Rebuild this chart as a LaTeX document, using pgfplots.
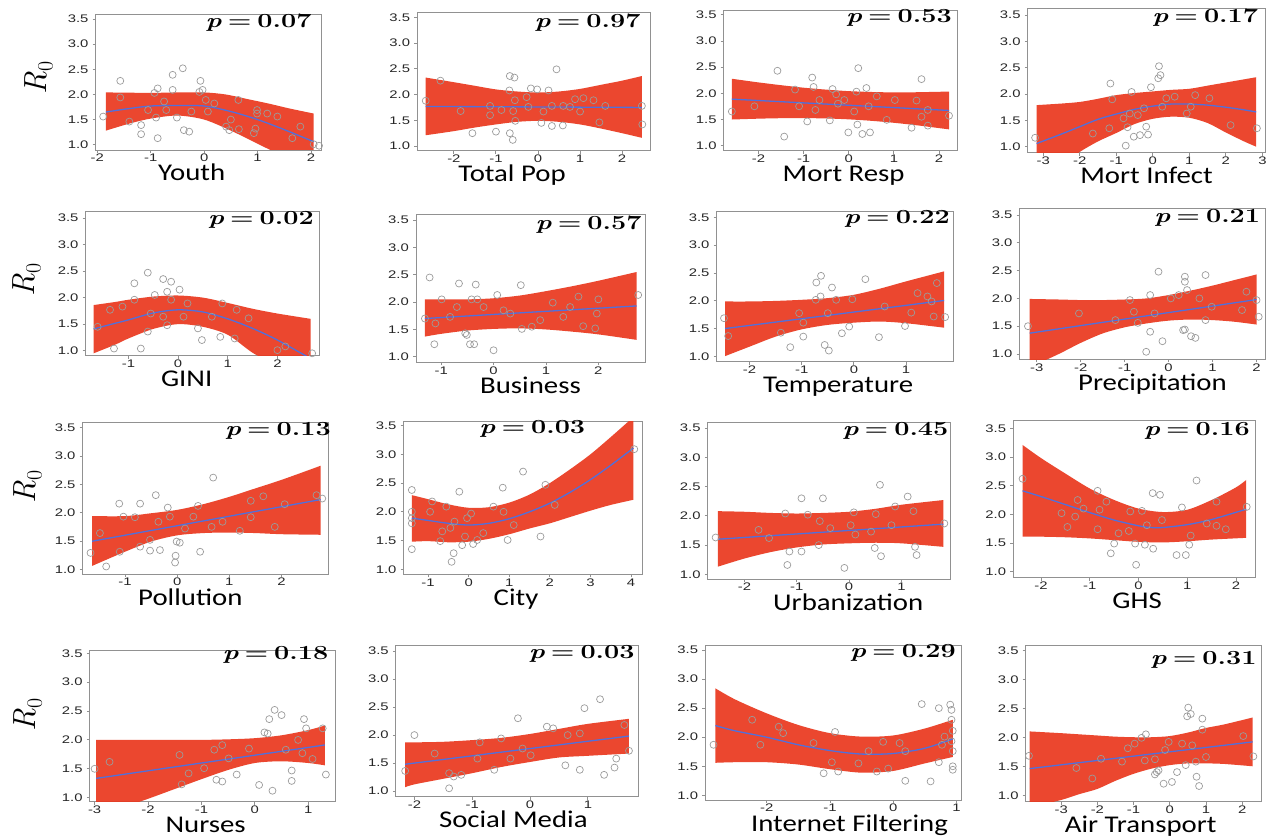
\documentclass[border=0pt]{standalone}
\usepackage{fontspec}
\usepackage{pgfplots}
\pgfplotsset{compat=1.18}
\usepgfplotslibrary{fillbetween}
\newfontfamily\ticksf[FakeStretch=1.35]{Liberation Sans}
\newfontfamily\titlef[FakeStretch=1.2]{Carlito}
\newfontfamily\pfont[FakeStretch=1.35]{Latin Modern Roman}
\newfontfamily\rfont{Latin Modern Roman}
\definecolor{bandred}{RGB}{233,57,31}
\definecolor{fitblue}{RGB}{80,112,220}
\definecolor{ptgray}{RGB}{155,155,155}
\definecolor{framegray}{RGB}{145,145,145}
\newcommand{\Rzero}{{\rfont\itshape R}\kern0.5pt\raisebox{-6pt}{\rfont\fontsize{22}{22}\selectfont 0}}
\pgfplotsset{
  panel/.style={scale only axis, anchor=south west,
    axis line style={framegray, line width=0.9pt},
    tick style={framegray, line width=0.9pt},
    major tick length=3pt, tick align=outside, tick pos=left,
    ytick={1,1.5,2,2.5,3,3.5}, xtick={-4,-3,...,5},
    tick label style={font=\ticksf\fontsize{11}{12}\selectfont, text=black!85},
    yticklabel style={inner sep=1pt, xshift=-3pt, /pgf/number format/.cd, fixed, fixed zerofill, precision=1, assume math mode=true},
    xticklabel style={inner sep=1pt, /pgf/number format/assume math mode=true},
    title style={at={(axis description cs:1,1)}, anchor=north east, inner sep=0pt, font=\pfont\fontsize{20}{20}\selectfont},
    xlabel style={at={(axis description cs:0.5,0)}, anchor=base, inner sep=0pt, yshift=-31pt, font=\titlef\fontsize{24}{24}\selectfont},
    ylabel style={anchor=center, inner sep=0pt, font=\rfont\fontsize{32}{32}\selectfont},
    clip=true},
  pv/.style n args={3}{title={{\bfseries\itshape p}\hspace{0.3em}\textbf{=}\hspace{0.3em}\textbf{#1}}, title style={xshift=#2pt, yshift=#3pt}},
  xl/.style 2 args={xlabel={#1}, xlabel style={xshift=#2pt}},
  rl/.style 2 args={ylabel={\Rzero}, ylabel style={at={(axis description cs:#1,#2)}}},
  pts/.style={only marks, mark=o, mark size=3.5pt, color=ptgray, mark options={line width=0.7pt}},
  edge/.style={draw=none, smooth, forget plot},
  bandfill/.style={fill=bandred, fill opacity=0.93, draw=none},
  fit/.style={draw=fitblue, line width=1.3pt, no marks, smooth},
}
\begin{document}
\begin{tikzpicture}

% 1 Youth
\begin{axis}[panel, at={(95.7pt,689pt)}, width=226pt, height=136pt, xmin=-2.03, xmax=2.2, ymin=0.895, ymax=3.6, pv={0.07}{-10}{-5.5}, xl={Youth}{-17}, rl={-0.251}{0.53}]
\addplot[pts] coordinates {(-1.89,1.56) (-1.57,2.27) (-1.57,1.94) (-1.40,1.46) (-1.18,1.39) (-1.18,1.21) (-0.93,2.03) (-0.87,2.12) (-0.87,1.13) (-0.90,1.54) (-0.59,2.39) (-0.40,2.52) (-0.59,2.09) (-0.51,1.54) (-0.38,1.29) (-0.28,1.26) (-0.07,2.27) (-0.03,2.09) (-0.09,2.05) (0.03,1.89) (0.07,1.66) (-0.24,1.66) (0.41,1.36) (0.47,1.29) (0.65,1.31) (0.50,1.50) (0.64,1.89) (0.99,1.69) (0.99,1.62) (0.96,1.32) (0.93,1.23) (1.37,1.56) (1.65,1.13) (2.05,1.01) (-0.75,1.86) (-0.71,1.69) (-1.05,1.69) (0.19,1.82) (1.18,1.62) (1.80,1.36) (2.15,0.98)};
\addplot[edge, name path=U] coordinates {(-1.84,2.04) (-1.4,2.035) (-1,2.03) (-0.5,2.04) (0,2.04) (0.4,2.0) (0.8,1.91) (1.2,1.82) (1.6,1.72) (2.05,1.62)};
\addplot[edge, name path=L] coordinates {(-1.84,1.28) (-1.4,1.42) (-1,1.52) (-0.5,1.58) (0,1.5) (0.5,1.28) (1,1.02) (1.5,0.75) (2.05,0.4)};
\addplot[bandfill] fill between[of=U and L];
\addplot[fit] coordinates {(-1.84,1.65) (-1.4,1.72) (-1,1.77) (-0.5,1.78) (0,1.77) (0.5,1.66) (1,1.5) (1.5,1.3) (2.05,1.06)};
\end{axis}

% 2 Total Pop
\begin{axis}[panel, at={(417.3pt,688.3pt)}, width=233.4pt, height=138pt, xmin=-2.87, xmax=2.68, ymin=0.91, ymax=3.59, pv={0.97}{-10}{-7}, xl={Total Pop}{-22}]
\addplot[pts] coordinates {(-2.67,1.88) (-2.32,2.27) (-1.84,1.68) (-1.56,1.25) (-1.14,1.60) (-1.0,1.28) (-1.14,1.78) (-0.67,2.36) (-0.56,2.33) (-0.68,2.08) (-0.67,1.25) (-0.60,1.12) (-0.54,1.49) (-0.59,1.68) (-0.55,1.89) (-0.27,1.95) (-0.17,2.12) (-0.02,2.10) (0.08,1.45) (0.13,1.67) (0.25,2.08) (0.33,1.39) (0.44,2.49) (0.59,1.40) (0.76,1.76) (0.88,1.91) (1.0,1.67) (1.08,1.93) (1.32,1.89) (1.46,1.46) (1.60,1.78) (2.47,1.78) (2.48,1.42) (0.33,1.78) (0.6,1.78) (-0.87,1.70) (-0.23,1.76)};
\addplot[edge, name path=U] coordinates {(-2.67,2.33) (-2,2.24) (-1.5,2.17) (-1,2.1) (-0.5,2.06) (0,2.04) (0.5,2.06) (1,2.11) (1.5,2.19) (2,2.27) (2.47,2.36)};
\addplot[edge, name path=L] coordinates {(-2.67,1.21) (-2,1.29) (-1.5,1.36) (-1,1.42) (-0.5,1.47) (0,1.49) (0.5,1.47) (1,1.42) (1.5,1.34) (2,1.25) (2.47,1.16)};
\addplot[bandfill] fill between[of=U and L];
\addplot[fit] coordinates {(-2.67,1.77) (2.47,1.75)};
\end{axis}

% 3 Mort Resp
\begin{axis}[panel, at={(723.7pt,688.3pt)}, width=233.9pt, height=140pt, xmin=-2.77, xmax=2.41, ymin=0.90, ymax=3.58, pv={0.53}{-5.6}{-4.3}, xl={Mort Resp}{3}]
\addplot[pts] coordinates {(-2.59,1.65) (-2.09,1.75) (-1.58,2.43) (-1.43,1.17) (-1.19,2.07) (-1.10,1.75) (-0.92,1.46) (-0.81,2.30) (-0.78,2.12) (-0.74,1.68) (-0.42,1.48) (-0.36,2.08) (-0.28,1.98) (-0.24,1.80) (-0.01,1.25) (0.12,1.65) (0.17,2.03) (0.21,2.48) (0.19,1.40) (0.30,1.22) (0.47,1.25) (0.39,2.10) (0.44,1.75) (1.02,1.87) (0.84,1.49) (1.39,1.34) (1.5,1.86) (1.61,2.27) (1.61,1.55) (1.75,1.38) (1.75,1.68) (2.22,1.57) (-0.65,1.87) (-0.1,1.87) (0.62,1.94)};
\addplot[edge, name path=U] coordinates {(-2.59,2.277) (-2,2.207) (-1.5,2.154) (-1,2.106) (-0.5,2.069) (0,2.04) (0.5,2.024) (1,2.016) (1.5,2.019) (2.22,2.032)};
\addplot[edge, name path=L] coordinates {(-2.59,1.497) (-2,1.513) (-1.5,1.522) (-1,1.524) (-0.5,1.517) (0,1.50) (0.5,1.472) (1,1.434) (1.5,1.387) (2.22,1.308)};
\addplot[bandfill] fill between[of=U and L];
\addplot[fit] coordinates {(-2.59,1.887) (2.22,1.67)};
\end{axis}

% 4 Mort Infect
\begin{axis}[panel, at={(1027.8pt,686.3pt)}, width=237.5pt, height=144.4pt, xmin=-3.42, xmax=3.08, ymin=0.886, ymax=3.63, pv={0.17}{-7}{-6.7}, xl={Mort Infect}{0}]
\addplot[pts] coordinates {(-3.22,1.17) (-1.16,2.20) (-1.11,1.90) (-1.19,1.35) (-0.74,1.02) (-0.69,1.37) (-0.58,2.04) (-0.52,1.19) (-0.35,1.22) (-0.18,1.38) (-0.13,1.23) (-0.05,2.13) (0.15,2.30) (0.17,2.53) (0.21,2.36) (-0.24,1.73) (0.26,1.76) (0.37,1.92) (0.60,1.95) (1.04,1.76) (1.16,1.98) (1.55,1.92) (2.13,1.41) (2.85,1.35) (-1.64,1.25) (-0.63,1.63) (0.93,1.63) (-0.8,1.54) (-0.41,1.60)};
\addplot[edge, name path=U] coordinates {(-3.18,1.79) (-2.5,1.82) (-2,1.85) (-1.5,1.91) (-1,1.98) (-0.5,2.02) (0,2.05) (0.5,2.08) (1,2.1) (1.5,2.16) (2,2.22) (2.5,2.28) (2.83,2.32)};
\addplot[edge, name path=L] coordinates {(-3.18,0.3) (-2.5,0.65) (-2,0.9) (-1.5,1.1) (-1,1.26) (-0.5,1.43) (0,1.53) (0.5,1.57) (1,1.55) (1.5,1.45) (2,1.27) (2.5,1.1) (2.83,1.0)};
\addplot[bandfill] fill between[of=U and L];
\addplot[fit] coordinates {(-3.18,1.06) (-2.5,1.24) (-2,1.38) (-1.5,1.52) (-1,1.62) (-0.5,1.71) (0,1.77) (0.5,1.81) (1,1.81) (1.5,1.79) (2,1.75) (2.5,1.7) (2.83,1.66)};
\end{axis}

% 5 GINI
\begin{axis}[panel, at={(85.7pt,483.3pt)}, width=233.9pt, height=144pt, xmin=-1.86, xmax=2.85, ymin=0.905, ymax=3.62, pv={0.02}{-5.6}{-5.3}, xl={GINI}{-16}, rl={-0.251}{0.526}]
\addplot[pts] coordinates {(-1.29,1.04) (-0.88,2.27) (-0.75,1.04) (-0.61,2.47) (-0.61,1.36) (-0.47,2.05) (-0.30,2.35) (-0.14,2.30) (-0.22,2.11) (0.03,2.15) (-0.14,1.96) (-0.30,1.64) (-0.22,1.48) (0.40,1.42) (0.48,1.20) (0.85,1.26) (0.89,1.89) (1.14,1.23) (1.18,1.77) (1.42,1.61) (2.0,1.01) (2.70,0.95) (-1.62,1.45) (-1.37,1.77) (-1.12,1.83) (-0.88,1.96) (0.19,1.89) (0.11,1.64) (-0.55,1.70) (0.68,1.64) (2.16,1.08)};
\addplot[edge, name path=U] coordinates {(-1.70,1.86) (-1.25,1.92) (-1,1.96) (-0.5,2.02) (0,2.04) (0.5,2.0) (1,1.9) (1.5,1.79) (2,1.7) (2.67,1.6)};
\addplot[edge, name path=L] coordinates {(-1.70,0.95) (-1.25,1.12) (-1,1.23) (-0.5,1.41) (0,1.50) (0.5,1.45) (1,1.3) (1.5,0.96) (2,0.7) (2.67,0.1)};
\addplot[bandfill] fill between[of=U and L];
\addplot[fit] coordinates {(-1.7,1.41) (-1.25,1.52) (-1,1.58) (-0.5,1.71) (0,1.77) (0.5,1.73) (1,1.6) (1.5,1.42) (2,1.2) (2.67,0.85)};
\end{axis}

% 6 Business
\begin{axis}[panel, at={(416pt,476.7pt)}, width=229pt, height=148.3pt, xmin=-1.48, xmax=2.89, ymin=0.90, ymax=3.61, pv={0.57}{-3.3}{-7.7}, xl={Business}{0}]
\addplot[pts] coordinates {(-1.31,1.70) (-1.22,2.45) (-1.13,1.23) (-0.99,2.05) (-1.11,1.61) (-0.66,2.34) (-0.54,1.43) (-0.51,1.40) (-0.45,1.23) (-0.37,1.23) (-0.34,2.32) (-0.42,2.05) (-0.31,2.05) (0.0,1.12) (0.07,2.13) (0.52,2.31) (0.54,1.51) (0.73,1.55) (0.89,1.67) (1.13,1.99) (1.62,2.10) (1.71,1.56) (1.94,1.52) (2.0,2.05) (1.97,1.79) (2.76,2.13) (-0.83,1.73) (-0.70,1.91) (-0.19,1.91) (0.19,1.85) (0.32,1.79) (1.46,1.91) (1.33,1.73)};
\addplot[edge, name path=U] coordinates {(-1.31,2.05) (-1,2.05) (-0.5,2.05) (0,2.07) (0.5,2.12) (1,2.2) (1.5,2.29) (2,2.39) (2.73,2.55)};
\addplot[edge, name path=L] coordinates {(-1.31,1.37) (-1,1.42) (-0.5,1.48) (0,1.51) (0.5,1.52) (1,1.5) (1.5,1.46) (2,1.41) (2.73,1.31)};
\addplot[bandfill] fill between[of=U and L];
\addplot[fit] coordinates {(-1.31,1.70) (2.73,1.93)};
\end{axis}

% 7 Temperature
\begin{axis}[panel, at={(716.7pt,477.3pt)}, width=236.8pt, height=150pt, xmin=-2.63, xmax=1.91, ymin=0.91, ymax=3.60, pv={0.22}{-3.5}{-4.3}, xl={Temperature}{3}]
\addplot[pts] coordinates {(-2.49,1.69) (-2.41,1.37) (-1.40,1.43) (-1.22,1.17) (-0.97,1.36) (-0.97,1.61) (-0.72,2.33) (-0.63,2.45) (-0.64,2.08) (-0.73,2.02) (-0.56,1.21) (-0.48,1.11) (-0.42,2.24) (-0.34,2.02) (-0.23,1.42) (-0.09,1.54) (-0.03,2.03) (0.22,2.39) (0.48,1.35) (0.98,1.55) (1.10,1.79) (1.22,2.14) (1.41,2.08) (1.49,1.99) (1.59,2.32) (1.53,1.72) (1.75,1.71) (-1.05,1.78) (-0.5,1.78) (0.59,1.90)};
\addplot[edge, name path=U] coordinates {(-2.47,1.99) (-2,1.99) (-1.5,2.0) (-1,2.02) (-0.5,2.05) (0,2.11) (0.5,2.22) (1,2.35) (1.73,2.53)};
\addplot[edge, name path=L] coordinates {(-2.47,1.01) (-2,1.18) (-1.5,1.36) (-1,1.49) (-0.5,1.57) (0,1.61) (0.5,1.63) (1,1.6) (1.73,1.52)};
\addplot[bandfill] fill between[of=U and L];
\addplot[fit] coordinates {(-2.47,1.504) (1.73,2.008)};
\end{axis}

% 8 Precipitation
\begin{axis}[panel, at={(1019.6pt,479.7pt)}, width=245.7pt, height=151pt, xmin=-3.39, xmax=2.2, ymin=0.905, ymax=3.62, pv={0.21}{-5}{-6.7}, xl={Precipitation}{10}]
\addplot[pts] coordinates {(-3.2,1.50) (-2.04,1.73) (-1.21,1.61) (-0.88,1.97) (-0.70,1.56) (-0.51,1.04) (-0.42,1.40) (-0.42,2.06) (-0.23,2.48) (-0.14,1.23) (0.05,2.0) (0.23,2.06) (0.37,2.39) (0.37,2.30) (0.42,2.15) (0.37,1.44) (0.33,1.43) (0.51,1.32) (0.61,1.29) (0.84,2.42) (0.84,1.61) (0.70,2.0) (1.67,1.79) (1.77,2.12) (2.0,1.97) (2.05,1.67) (-0.79,1.76) (-0.32,1.73) (0.98,1.85)};
\addplot[edge, name path=U] coordinates {(-3.16,1.99) (-2.5,1.98) (-2,1.97) (-1.5,1.97) (-1,1.98) (-0.5,2.0) (0,2.06) (0.5,2.14) (1,2.23) (1.5,2.33) (2,2.43)};
\addplot[edge, name path=L] coordinates {(-3.16,0.76) (-2.5,1.0) (-2,1.2) (-1.5,1.37) (-1,1.48) (-0.5,1.55) (0,1.6) (0.5,1.62) (1,1.61) (1.5,1.58) (2,1.53)};
\addplot[bandfill] fill between[of=U and L];
\addplot[fit] coordinates {(-3.16,1.375) (2,1.979)};
\end{axis}

% 9 Pollution
\begin{axis}[panel, at={(82.7pt,265pt)}, width=245.3pt, height=151.3pt, xmin=-1.81, xmax=2.89, ymin=0.917, ymax=3.59, pv={0.13}{3}{-5.3}, xl={Pollution}{-15}, rl={-0.223}{0.575}]
\addplot[pts] coordinates {(-1.66,1.29) (-1.48,1.64) (-1.36,1.05) (-1.11,2.16) (-1.03,1.93) (-1.10,1.31) (-0.81,1.92) (-0.71,2.16) (-0.71,1.40) (-0.52,1.33) (-0.41,2.31) (-0.36,1.84) (-0.33,1.34) (-0.18,2.09) (-0.14,1.93) (-0.03,1.24) (-0.04,1.12) (-0.01,1.49) (0.05,1.47) (0.15,1.72) (0.40,2.12) (0.44,1.31) (0.69,2.62) (0.66,1.75) (0.87,1.84) (1.20,1.68) (1.41,2.21) (1.41,1.92) (1.65,2.29) (1.87,1.75) (2.06,2.15) (2.67,2.31) (2.78,2.25) (-0.52,1.52) (0.31,1.93)};
\addplot[edge, name path=U] coordinates {(-1.63,1.94) (-1,1.94) (-0.5,1.99) (0,2.05) (0.5,2.15) (1,2.28) (1.5,2.43) (2,2.58) (2.75,2.83)};
\addplot[edge, name path=L] coordinates {(-1.63,1.06) (-1,1.31) (-0.5,1.49) (0,1.6) (0.5,1.64) (1,1.65) (1.5,1.64) (2,1.62) (2.75,1.61)};
\addplot[bandfill] fill between[of=U and L];
\addplot[fit] coordinates {(-1.63,1.496) (2.75,2.232)};
\end{axis}

% 10 City
\begin{axis}[panel, at={(403.7pt,264.7pt)}, width=238.7pt, height=153.3pt, xmin=-1.6, xmax=4.28, ymin=0.913, ymax=3.58, pv={0.03}{-57}{-4.7}, xl={City}{-7}]
\addplot[pts] coordinates {(-1.40,2.38) (-1.40,2.0) (-1.40,1.89) (-1.40,1.80) (-1.40,1.35) (-0.90,2.18) (-0.70,1.49) (-0.65,1.66) (-0.55,2.09) (-0.45,1.72) (-0.37,1.28) (-0.42,1.13) (-0.23,2.35) (-0.16,1.42) (-0.09,1.57) (-0.04,1.89) (0.06,1.97) (0.11,1.44) (0.21,1.51) (0.36,1.63) (0.61,2.09) (0.84,2.42) (0.96,1.51) (1.11,1.77) (1.34,2.70) (1.77,1.57) (1.89,2.47) (2.12,2.12) (4.08,3.09) (-0.95,2.0) (-0.35,1.83) (0.86,2.0)};
\addplot[edge, name path=U] coordinates {(-1.4,2.29) (-1,2.22) (-0.5,2.13) (0,2.07) (0.5,2.08) (1,2.16) (1.5,2.3) (2,2.5) (2.5,2.74) (3,3.0) (3.5,3.3) (4.06,3.65)};
\addplot[edge, name path=L] coordinates {(-1.4,1.48) (-1,1.49) (-0.5,1.47) (0,1.48) (0.5,1.53) (1,1.61) (1.5,1.71) (2,1.8) (2.5,1.91) (3,2.02) (3.5,2.12) (4.06,2.21)};
\addplot[bandfill] fill between[of=U and L];
\addplot[fit] coordinates {(-1.4,1.89) (-1,1.85) (-0.5,1.8) (0,1.77) (0.5,1.8) (1,1.88) (1.5,2.0) (2,2.15) (2.5,2.34) (3,2.56) (3.5,2.81) (4.06,3.11)};
\end{axis}

% 11 Urbanization
\begin{axis}[panel, at={(707.8pt,260pt)}, width=242.8pt, height=156.7pt, xmin=-2.70, xmax=1.94, ymin=0.92, ymax=3.6, pv={0.45}{-2}{-6}, xl={Urbanization}{19}]
\addplot[pts] coordinates {(-2.55,1.63) (-1.73,1.76) (-1.22,2.04) (-1.18,1.16) (-1.14,1.39) (-0.91,2.30) (-0.91,1.39) (-0.79,2.02) (-0.56,1.91) (-0.50,2.30) (-0.58,1.50) (-0.09,1.11) (0.03,1.84) (0.09,2.06) (0.12,1.68) (0.42,1.73) (0.51,2.03) (0.49,1.45) (0.59,2.53) (0.61,1.31) (0.88,2.16) (1.12,2.33) (1.23,2.08) (1.26,1.47) (1.29,1.33) (1.82,1.87) (-1.53,1.62) (-0.36,1.79) (0.81,1.84)};
\addplot[edge, name path=U] coordinates {(-2.51,2.08) (-2,2.07) (-1.5,2.05) (-1,2.04) (-0.5,2.05) (0,2.07) (0.5,2.12) (1,2.19) (1.8,2.27)};
\addplot[edge, name path=L] coordinates {(-2.51,1.13) (-2,1.27) (-1.5,1.38) (-1,1.46) (-0.5,1.51) (0,1.53) (0.5,1.54) (1,1.53) (1.8,1.47)};
\addplot[bandfill] fill between[of=U and L];
\addplot[fit] coordinates {(-2.51,1.60) (1.8,1.858)};
\end{axis}

% 12 GHS
\begin{axis}[panel, at={(1013.3pt,261.3pt)}, width=241.7pt, height=157.7pt, xmin=-2.57, xmax=2.39, ymin=0.895, ymax=3.645, pv={0.16}{-5}{-8}, xl={GHS}{3}]
\addplot[pts] coordinates {(-2.38,2.62) (-1.58,2.02) (-1.46,1.78) (-1.25,2.25) (-1.30,1.96) (-1.13,2.10) (-0.84,2.41) (-0.84,1.74) (-0.80,2.08) (-0.66,2.22) (-0.57,1.32) (-0.50,1.49) (-0.41,1.67) (-0.17,2.05) (-0.07,1.49) (-0.05,1.12) (0.07,2.06) (0.13,1.47) (0.29,2.37) (0.30,1.40) (0.44,2.34) (0.48,1.90) (0.78,1.29) (0.89,2.12) (0.97,1.29) (1.04,1.47) (1.07,1.63) (1.19,2.59) (1.40,1.84) (1.60,2.22) (1.60,1.80) (1.79,1.74) (2.22,2.13) (-0.2,1.71) (0.17,1.81)};
\addplot[edge, name path=U] coordinates {(-2.38,3.21) (-2,2.98) (-1.5,2.71) (-1,2.45) (-0.5,2.25) (0,2.1) (0.5,2.04) (1,2.08) (1.5,2.25) (2,2.47) (2.21,2.6)};
\addplot[edge, name path=L] coordinates {(-2.38,1.61) (-2,1.61) (-1.5,1.6) (-1,1.58) (-0.5,1.55) (0,1.52) (0.5,1.51) (1,1.53) (1.5,1.56) (2.21,1.59)};
\addplot[bandfill] fill between[of=U and L];
\addplot[fit] coordinates {(-2.38,2.41) (-2,2.31) (-1.5,2.17) (-1,2.03) (-0.5,1.9) (0,1.8) (0.25,1.77) (0.5,1.77) (1,1.82) (1.5,1.91) (2.21,2.09)};
\end{axis}

% 13 Nurses
\begin{axis}[panel, at={(89.8pt,37.3pt)}, width=245.7pt, height=151.7pt, xmin=-3.09, xmax=1.51, ymin=0.93, ymax=3.557, pv={0.18}{-7}{-1.7}, xl={Nurses}{-7}, rl={-0.2515}{0.573}]
\addplot[pts] coordinates {(-3.0,1.50) (-2.72,1.62) (-1.41,1.74) (-1.37,1.23) (-1.24,1.42) (-0.95,1.51) (-0.76,1.83) (-0.72,1.31) (-0.61,1.28) (-0.61,1.91) (-0.34,1.40) (0.08,1.22) (0.18,2.13) (0.24,2.11) (0.27,2.36) (0.33,1.12) (0.37,2.52) (0.50,2.43) (0.69,1.47) (0.69,1.29) (0.81,2.0) (0.89,1.77) (0.92,2.36) (0.96,2.20) (1.08,1.67) (1.27,2.20) (1.33,1.40) (-0.11,1.85) (0.58,1.83) (-0.49,1.68)};
\addplot[edge, name path=U] coordinates {(-2.97,2.0) (-2.5,2.0) (-2,2.0) (-1.5,2.0) (-1,2.0) (-0.5,2.01) (0,2.03) (0.5,2.08) (1,2.17) (1.31,2.25)};
\addplot[edge, name path=L] coordinates {(-2.97,0.66) (-2.5,0.82) (-2,0.98) (-1.5,1.15) (-1,1.32) (-0.5,1.48) (0,1.6) (0.5,1.63) (1,1.6) (1.31,1.56)};
\addplot[bandfill] fill between[of=U and L];
\addplot[fit] coordinates {(-2.97,1.334) (1.31,1.912)};
\end{axis}

% 14 Social Media
\begin{axis}[panel, at={(395.9pt,42.3pt)}, width=242.9pt, height=151pt, xmin=-2.32, xmax=1.88, ymin=0.90, ymax=3.595, pv={0.03}{-4}{-5.3}, xl={Social Media}{-4}]
\addplot[pts] coordinates {(-2.16,1.36) (-2.0,2.0) (-1.65,1.67) (-1.40,1.32) (-1.32,1.26) (-1.40,1.05) (-1.19,1.29) (-0.87,1.87) (-0.62,1.38) (-0.50,1.94) (-0.21,2.30) (-0.13,1.76) (0.29,2.15) (0.40,2.12) (0.61,1.46) (0.86,1.38) (0.94,2.48) (1.21,2.64) (1.28,1.29) (1.46,1.42) (1.49,1.58) (1.71,1.72) (1.63,2.18) (0.65,2.0) (0.86,2.03) (-0.91,1.58) (0.01,1.64) (-0.34,1.58)};
\addplot[edge, name path=U] coordinates {(-2.16,1.87) (-2,1.87) (-1.5,1.88) (-1,1.91) (-0.5,1.95) (0,2.02) (0.5,2.11) (1,2.2) (1.71,2.29)};
\addplot[edge, name path=L] coordinates {(-2.16,1.07) (-2,1.12) (-1.5,1.22) (-1,1.32) (-0.5,1.43) (0,1.52) (0.5,1.6) (1,1.63) (1.71,1.67)};
\addplot[bandfill] fill between[of=U and L];
\addplot[fit] coordinates {(-2.16,1.479) (1.71,1.982)};
\end{axis}

% 15 Internet Filtering
\begin{axis}[panel, at={(705.3pt,39pt)}, width=256.3pt, height=154.3pt, xmin=-2.97, xmax=1.08, ymin=0.92, ymax=3.574, pv={0.29}{-5.6}{-4.3}, xl={Internet Filtering}{16}]
\addplot[pts] coordinates {(-2.84,1.87) (-2.23,2.30) (-2.10,1.87) (-1.81,2.18) (-1.74,2.07) (-1.26,1.90) (-1.10,1.38) (-0.92,2.09) (-0.97,1.57) (-0.87,1.41) (-0.55,1.55) (-0.26,1.41) (-0.16,1.92) (-0.08,1.46) (0.10,1.90) (0.19,1.25) (0.45,2.57) (0.59,1.24) (0.72,2.50) (0.72,1.57) (0.90,2.56) (0.92,2.47) (0.92,2.30) (0.94,2.11) (0.92,1.93) (0.94,1.76) (0.94,1.50) (0.94,1.44) (0.81,2.01) (0.77,1.87) (0.19,1.76) (-0.39,1.76)};
\addplot[edge, name path=U] coordinates {(-2.81,2.84) (-2.5,2.65) (-2,2.41) (-1.5,2.21) (-1,2.07) (-0.5,2.01) (0,2.03) (0.5,2.15) (0.94,2.3)};
\addplot[edge, name path=L] coordinates {(-2.81,1.56) (-2.5,1.57) (-2,1.57) (-1.5,1.53) (-1,1.45) (-0.5,1.39) (0,1.42) (0.5,1.55) (0.94,1.66)};
\addplot[bandfill] fill between[of=U and L];
\addplot[fit] coordinates {(-2.81,2.2) (-2.5,2.11) (-2,2.0) (-1.5,1.87) (-1,1.77) (-0.5,1.71) (0,1.72) (0.5,1.81) (0.94,1.97)};
\end{axis}

% 16 Air Transport
\begin{axis}[panel, at={(1025.7pt,37.3pt)}, width=236pt, height=156.7pt, xmin=-3.98, xmax=2.54, ymin=0.90, ymax=3.598, pv={0.31}{-5}{-11.7}, xl={Air Transport}{-3}]
\addplot[pts] coordinates {(-3.89,1.69) (-2.58,1.48) (-2.14,1.30) (-1.90,1.64) (-1.32,1.59) (-1.16,1.82) (-0.97,1.90) (-0.78,2.0) (-0.66,2.06) (-0.69,1.61) (-0.41,1.37) (-0.36,1.41) (-0.31,1.44) (-0.41,1.63) (-0.17,1.21) (-0.03,1.93) (0.06,1.24) (0.20,1.41) (0.34,1.90) (0.44,1.53) (0.48,2.37) (0.51,2.52) (0.58,2.41) (0.72,1.59) (0.74,1.33) (0.81,1.17) (0.90,2.33) (0.90,2.14) (1.0,1.67) (2.03,2.03) (2.31,1.68) (-0.13,1.79) (0.62,1.87)};
\addplot[edge, name path=U] coordinates {(-3.87,2.11) (-3,2.08) (-2.5,2.06) (-2,2.04) (-1.5,2.02) (-1,2.01) (-0.5,2.01) (0,2.03) (0.5,2.09) (1,2.17) (1.5,2.23) (2.29,2.35)};
\addplot[edge, name path=L] coordinates {(-3.87,0.8) (-3,0.93) (-2.5,1.03) (-2,1.12) (-1.5,1.26) (-1,1.38) (-0.5,1.47) (0,1.53) (0.5,1.56) (1,1.56) (1.5,1.55) (2.29,1.51)};
\addplot[bandfill] fill between[of=U and L];
\addplot[fit] coordinates {(-3.87,1.47) (2.29,1.93)};
\end{axis}

\pgfresetboundingbox
\path[use as bounding box] (0,0) rectangle (1277pt,839pt);
\end{tikzpicture}
\end{document}
